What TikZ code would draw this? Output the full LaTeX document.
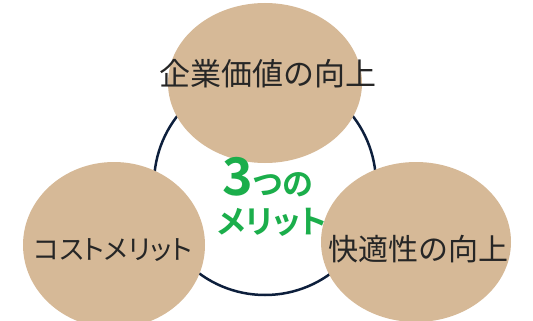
\documentclass[tikz,border=0pt]{standalone}
\usepackage{fontspec}
\setmainfont{Noto Sans CJK JP}
\newfontfamily\jpfont{Noto Sans CJK JP}
\newfontfamily\jpkana[RawFeature=+palt]{Noto Sans CJK JP}
\newfontfamily\jpbold[RawFeature=+palt]{Noto Sans CJK JP Bold}
\definecolor{tan}{HTML}{D6B997}
\definecolor{navy}{HTML}{0D1F3C}
\definecolor{mgreen}{HTML}{1BAE4B}
\definecolor{txt}{HTML}{262626}
\begin{document}
\begin{tikzpicture}[x=1pt,y=-1pt,
  lbl/.style={text=txt, inner sep=0pt}]
\useasboundingbox (0,0) rectangle (533,321);
\node[circle, draw=navy, line width=2.5pt, minimum size=222pt, inner sep=0pt] (ring) at (265,184) {};
\fill[tan] (265,83) ellipse [x radius=97pt, y radius=80pt];
\coordinate (top) at (265,83);
\fill[tan] (114,245) ellipse [x radius=91pt, y radius=83pt];
\coordinate (left) at (114,245);
\fill[tan] (416,242) ellipse [x radius=95pt, y radius=80pt];
\coordinate (right) at (416,242);
\node[lbl, font=\jpfont\fontsize{31}{34}\selectfont] (t1) at (268,74) {企業価値の向上};
\node[lbl, font=\jpkana\fontsize{27}{30}\selectfont] (t2) at (113,250) {コストメリット};
\node[lbl, font=\jpfont\fontsize{30}{33}\selectfont] (t3) at (418,249) {快適性の向上};
\node[text=mgreen, inner sep=0pt, anchor=base] (g1) at (268,195) {\jpbold\fontsize{52}{54}\selectfont 3\fontsize{31}{33}\selectfont つの};
\node[text=mgreen, inner sep=0pt, font=\jpbold\fontsize{32}{34}\selectfont] (g2) at (272,222) {メリット};
\end{tikzpicture}
\end{document}
